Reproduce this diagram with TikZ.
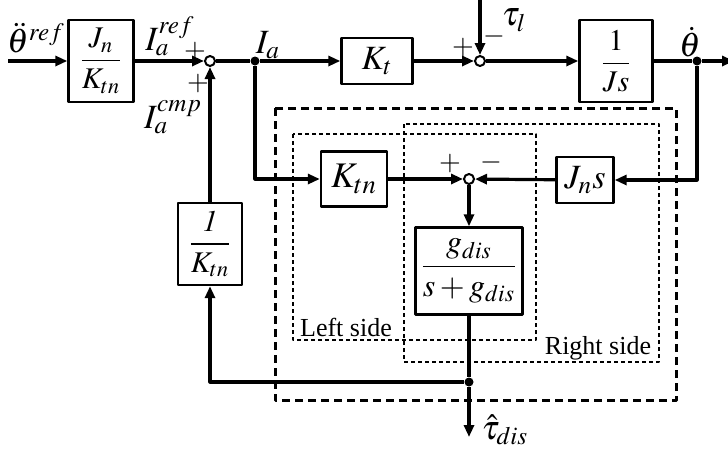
\documentclass[tikz,border=0pt]{standalone}
\usepackage{amsmath}
\usepackage{mathptmx}
\usepackage{fontspec}
\setmainfont{Liberation Serif}
\usetikzlibrary{arrows.meta,positioning}

\begin{document}
\begin{tikzpicture}[x=0.5pt, y=-0.5pt, >={Triangle[length=6pt,width=5pt]}, line join=round,
    blk/.style={draw, line width=1.2pt, inner sep=0pt, fill=white, font=\fontsize{15}{17}\selectfont},
    sumpt/.style={draw, circle, line width=1pt, fill=white, minimum size=5pt, inner sep=0pt},
    dotpt/.style={circle, fill, minimum size=4.5pt, inner sep=0pt},
    sig/.style={line width=1.6pt},
    lbl/.style={font=\fontsize{17}{19}\selectfont, inner sep=0.5pt},
    sgn/.style={font=\fontsize{14}{16}\selectfont, inner sep=0.5pt}]
  \useasboundingbox (0,0) rectangle (728,450);

  % observer frames
  \draw[line width=1.5pt, dash pattern=on 4pt off 2.5pt] (275,108) rectangle (676,400);
  \draw[line width=0.8pt, dash pattern=on 2pt off 1.5pt] (293,134) rectangle (536,340);
  \draw[line width=0.8pt, dash pattern=on 2pt off 1.5pt] (404,124) rectangle (659,362);
  \node[font=\fontsize{13}{15}\selectfont] (lside) at (346,327) {Left side};
  \node[font=\fontsize{13}{15}\selectfont] (rside) at (598,348) {Right side};

  % blocks
  \node[blk, minimum width=32.5pt, minimum height=41pt] (gain) at (101,61) {$\dfrac{J_n}{K_{tn}}$};
  \node[blk, minimum width=35.5pt, minimum height=23pt, font=\fontsize{17}{19}\selectfont] (kt) at (377,61) {$K_t$};
  \node[blk, minimum width=36.5pt, minimum height=41pt] (plant) at (616,61) {$\dfrac{1}{Js}$};
  \node[blk, minimum width=33pt, minimum height=27.5pt, font=\fontsize{18}{20}\selectfont] (ktn) at (354,179) {$K_{tn}$};
  \node[blk, minimum width=28.5pt, minimum height=23pt, font=\fontsize{17}{19}\selectfont] (jns) at (585,180) {$J_n s$};
  \node[blk, minimum width=53.5pt, minimum height=43.5pt, font=\fontsize{16}{18}\selectfont] (lpf) at (469,271) {$\dfrac{g_{dis}}{s+g_{dis}}$};
  \node[blk, minimum width=32pt, minimum height=41pt] (inv) at (210,244) {$\dfrac{\mathit{1}}{K_{tn}}$};

  % summing points and branch points
  \node[sumpt] (sa) at (210,61) {};
  \node[sumpt] (sb) at (480,61) {};
  \node[sumpt] (sc) at (469,179) {};
  \node[dotpt] (ja) at (255,61) {};
  \node[dotpt] (jw) at (697,61) {};
  \node[dotpt] (jd) at (469,382) {};
  \coordinate (in) at (8,61);
  \coordinate (out) at (734,61);
  \coordinate (tl) at (480,-2);
  \coordinate (td) at (469,437);

  % signal lines
  \draw[sig,->] (in) -- (gain);
  \draw[sig,->] (gain) -- (sa);
  \draw[sig] (sa) -- (ja);
  \draw[sig,->] (ja) -- (kt);
  \draw[sig,->] (kt) -- (sb);
  \draw[sig,->] (tl) -- (sb);
  \draw[sig,->] (sb) -- (plant);
  \draw[sig] (plant) -- (jw);
  \draw[sig,->] (jw) -- (out);
  \draw[sig,->] (ja) |- (ktn);
  \draw[sig,->] (ktn) -- (sc);
  \draw[sig,->] (jw) |- (jns);
  \draw[sig,->] (jns) -- (sc);
  \draw[sig,->] (sc) -- (lpf);
  \draw[sig] (lpf) -- (jd);
  \draw[sig,->] (jd) -- (td);
  \draw[sig,->] (jd) -| (inv);
  \draw[sig,->] (inv) -- (sa);

  % labels
  \node[lbl] at (36,38) {$\ddot{\theta}^{ref}$};
  \node[lbl] at (170,36) {$I_a^{ref}$};
  \node[sgn] at (195,52) {$+$};
  \node[sgn] at (198,84) {$+$};
  \node[lbl] at (173,117) {$I_a^{cmp}$};
  \node[lbl] at (268,45) {$I_a$};
  \node[sgn] at (463,48) {$+$};
  \node[sgn] at (494,36) {$-$};
  \node[lbl] at (514,20) {$\tau_l$};
  \node[lbl] at (690,42) {$\dot{\theta}$};
  \node[sgn] at (450,164) {$+$};
  \node[sgn] at (491,162) {$-$};
  \node[lbl] at (505,430) {$\hat{\tau}_{dis}$};
\end{tikzpicture}
\end{document}
